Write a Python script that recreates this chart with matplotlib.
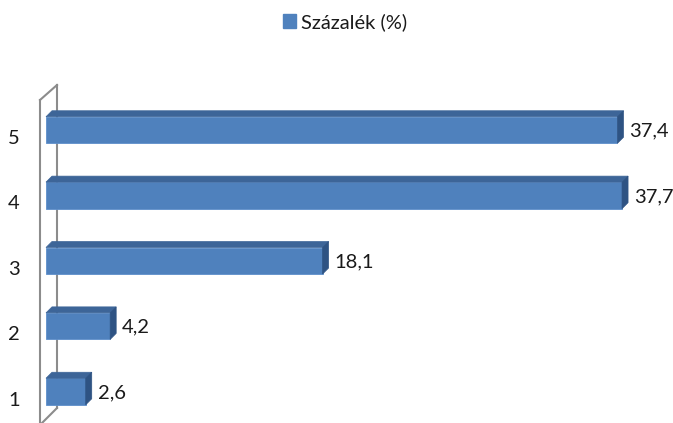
import matplotlib
matplotlib.use("Agg")
import matplotlib.pyplot as plt
from matplotlib.patches import Polygon, Patch

plt.rcParams['font.family'] = ['Lato', 'DejaVu Sans']

categories = ['1', '2', '3', '4', '5']
values = [2.6, 4.2, 18.1, 37.7, 37.4]
series_name = 'Százalék (%)'

W, H = 673, 423
fig = plt.figure(figsize=(W / 100, H / 100), dpi=100)
ax = fig.add_axes([0, 0, 1, 1])
ax.set_axis_off()

px_per_unit_x = 15.28
px_per_unit_y = 65.375
x0_px = 46
ax.set_xlim(-x0_px / px_per_unit_x, (W - x0_px) / px_per_unit_x)
y1_px = 391.5
ax.set_ylim(1 - (H - y1_px) / px_per_unit_y, 1 + y1_px / px_per_unit_y)

def px2x(p):
    return (p - x0_px) / px_per_unit_x

def py2y(p):
    return 1 + (y1_px - p) / px_per_unit_y

front = '#4F81BD'
top_c = '#3D6598'
side_c = '#2E5383'
wall_c = '#8C8C8C'

ypos = list(range(1, len(categories) + 1))
bh = 26.5 / px_per_unit_y
dx = 6 / px_per_unit_x
dy = 6 / px_per_unit_y

# wall
ax.plot([px2x(40), px2x(40)], [py2y(100), py2y(430)], color=wall_c, lw=1.5, zorder=1)
ax.plot([px2x(57), px2x(57)], [py2y(85), py2y(408)], color=wall_c, lw=1.5, zorder=1)
ax.plot([px2x(40), px2x(57)], [py2y(100), py2y(85)], color=wall_c, lw=1.5, zorder=1)
ax.plot([px2x(57), px2x(40)], [py2y(408), py2y(425)], color=wall_c, lw=1.5, zorder=1)

bars = ax.barh(ypos, values, height=bh, left=0, color=front, edgecolor='#5E8FCB',
               linewidth=0.6, zorder=3)
for y, v in zip(ypos, values):
    yt = y + bh / 2
    yb = y - bh / 2
    ax.add_patch(Polygon([(0, yt), (v, yt), (v + dx, yt + dy), (dx, yt + dy)],
                         closed=True, facecolor=top_c, edgecolor=top_c, lw=0.5, zorder=3))
    ax.add_patch(Polygon([(v, yb), (v, yt), (v + dx, yt + dy), (v + dx, yb + dy)],
                         closed=True, facecolor=side_c, edgecolor=side_c, lw=0.5, zorder=3))
    ax.text(v + 12 / px_per_unit_x, y - 1 / px_per_unit_y, f'{v:.1f}'.replace('.', ','),
            ha='left', va='center', fontsize=14.5, color='#1a1a1a', zorder=4)

for y, c in zip(ypos, categories):
    ax.text(px2x(14), y - 8.5 / px_per_unit_y, c, ha='center', va='center',
            fontsize=14.5, color='#1a1a1a')

fig.legend(handles=[Patch(facecolor=front, edgecolor=front)], labels=[series_name],
           loc='center', bbox_to_anchor=(345 / W, 1 - 22 / H), frameon=False,
           fontsize=14.5, handlelength=0.65, handleheight=0.75, handletextpad=0.25,
           labelcolor='#1a1a1a')

fig.savefig('out.png', dpi=100)
